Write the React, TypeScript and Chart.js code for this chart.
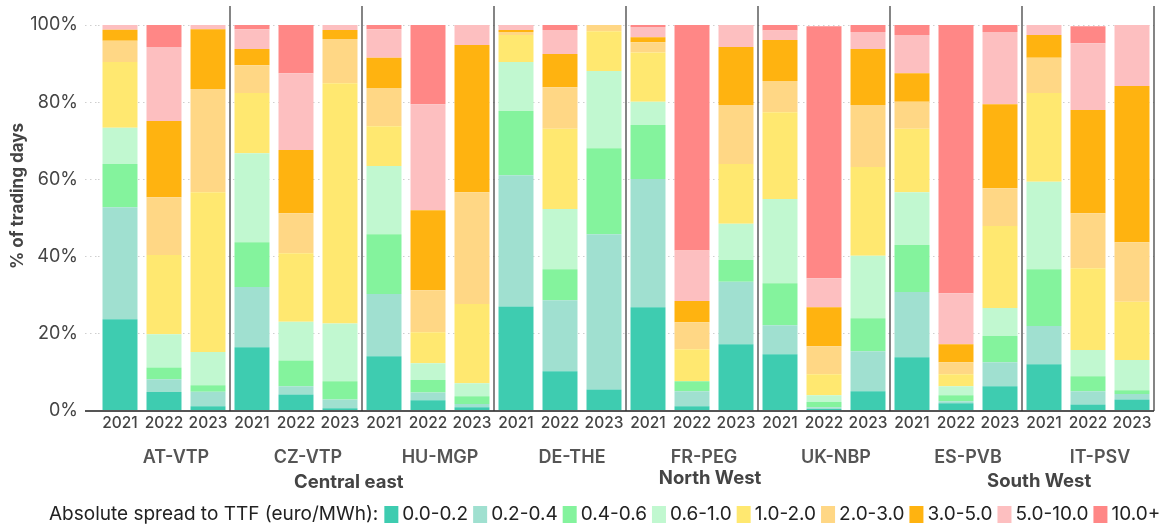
import React, { useEffect, useRef } from "react";
import { Chart, registerables } from "chart.js";

Chart.register(...registerables);

const HUBS = ["AT-VTP", "CZ-VTP", "HU-MGP", "DE-THE", "FR-PEG", "UK-NBP", "ES-PVB", "IT-PSV"];
const YEARS = ["2021", "2022", "2023"];
const REGIONS = ["Central east", "North West", "South West"];
const LEGEND_TITLE = "Absolute spread to TTF (euro/MWh):";
const Y_TITLE = "% of trading days";
const Y_TICKS = [0, 20, 40, 60, 80, 100];

const BUCKETS = ["0.0-0.2", "0.2-0.4", "0.4-0.6", "0.6-1.0", "1.0-2.0", "2.0-3.0", "3.0-5.0", "5.0-10.0", "10.0+"];
const COLORS = ["#3ECCB0", "#A0E0D0", "#84F39D", "#C1F8D0", "#FFE870", "#FFD785", "#FFB310", "#FDBFC0", "#FF8786"];

// values per bar: AT 21,22,23, CZ 21,22,23, HU..., DE..., FR..., UK..., ES..., IT...
const s00_02 = [23.8, 4.9, 1.2, 16.5, 4.3, 0.7, 14.2, 2.8, 1.0, 27.1, 10.3, 5.6, 26.9, 1.2, 17.3, 14.7, 0.5, 5.1, 13.9, 2.0, 6.4, 12.1, 1.7, 3.0];
const s02_04 = [29.0, 3.3, 3.8, 15.6, 2.1, 2.3, 16.1, 2.0, 0.8, 34.0, 18.4, 40.2, 33.2, 3.9, 16.2, 7.5, 0.5, 10.4, 16.9, 0.5, 6.2, 9.9, 3.4, 1.4];
const s04_06 = [11.2, 3.1, 1.7, 11.6, 6.7, 4.7, 15.5, 3.2, 2.0, 16.6, 8.0, 22.3, 14.0, 2.6, 5.6, 10.9, 1.3, 8.5, 12.2, 1.6, 6.8, 14.7, 3.9, 1.0];
const s06_10 = [9.4, 8.6, 8.6, 23.1, 10.0, 15.0, 17.7, 4.4, 3.4, 12.7, 15.6, 20.0, 6.0, 0, 9.4, 21.8, 1.8, 16.2, 13.7, 2.3, 7.3, 22.7, 6.8, 7.8];
const s10_20 = [17.0, 20.5, 41.4, 15.6, 17.8, 62.2, 10.3, 8.0, 20.5, 7.0, 20.8, 10.3, 12.8, 8.3, 15.5, 22.5, 5.4, 23.0, 16.4, 3.1, 21.2, 23.0, 21.2, 15.1];
const s20_30 = [5.5, 15.0, 26.7, 7.2, 10.3, 11.5, 9.9, 10.9, 29.0, 0.8, 10.8, 1.6, 2.6, 7.0, 15.3, 8.1, 7.3, 16.1, 7.0, 3.1, 9.8, 9.1, 14.2, 15.4];
const s30_50 = [2.9, 19.7, 15.5, 4.2, 16.4, 2.3, 7.8, 20.7, 38.1, 0.5, 8.6, 0, 1.3, 5.5, 15.0, 10.6, 10.1, 14.5, 7.4, 4.7, 21.8, 5.9, 26.8, 40.5];
const s50_100 = [1.2, 19.2, 1.1, 5.1, 19.9, 1.3, 7.4, 27.5, 5.2, 1.3, 6.2, 0, 2.7, 13.1, 5.7, 2.5, 7.5, 4.4, 9.9, 13.2, 18.7, 2.6, 17.3, 15.8];
const s100p = [0, 5.7, 0, 1.1, 12.5, 0, 1.1, 20.5, 0, 0, 1.3, 0, 0.5, 58.4, 0, 1.4, 65.3, 1.8, 2.6, 69.5, 1.8, 0, 4.4, 0];

const SERIES = [s00_02, s02_04, s04_06, s06_10, s10_20, s20_30, s30_50, s50_100, s100p];

const FONT = "Inter";

const overlayPlugin = {
  id: "overlay",
  afterDatasetsDraw(chart: any) {
    const ctx = chart.ctx;
    const area = chart.chartArea;
    const y = chart.scales.y;
    const y0 = y.getPixelForValue(0);
    ctx.save();
    // zero line
    ctx.strokeStyle = "#555";
    ctx.lineWidth = 2;
    ctx.beginPath();
    ctx.moveTo(area.left - 13, y0);
    ctx.lineTo(area.right, y0);
    ctx.stroke();
    // group separators
    const groupW = area.width / HUBS.length;
    ctx.strokeStyle = "#333";
    ctx.lineWidth = 1.2;
    for (let k = 1; k <= HUBS.length; k++) {
      const px = area.left + k * groupW;
      ctx.beginPath();
      ctx.moveTo(px, area.top - 19);
      ctx.lineTo(px, y0);
      ctx.stroke();
    }
    ctx.restore();
  },
  afterDraw(chart: any) {
    const ctx = chart.ctx;
    const area = chart.chartArea;
    const slot = area.width / (HUBS.length * YEARS.length);
    ctx.save();
    // hub labels
    ctx.font = `600 18px ${FONT}`;
    ctx.fillStyle = "#555";
    ctx.textAlign = "center";
    ctx.textBaseline = "middle";
    HUBS.forEach((h, i) => {
      const cx = area.left + (i * 3 + 1.5) * slot + 12;
      ctx.fillText(h, cx, 458);
    });
    // region labels
    ctx.font = `bold 18.5px ${FONT}`;
    ctx.fillStyle = "#444";
    const regionPos = [
      [5.7, 482],
      [13.91, 478],
      [21.39, 481],
    ];
    REGIONS.forEach((r, i) => {
      ctx.fillText(r, area.left + regionPos[i][0] * slot, regionPos[i][1]);
    });
    // y title
    ctx.save();
    ctx.translate(18, 196);
    ctx.rotate(-Math.PI / 2);
    ctx.font = `bold 17px ${FONT}`;
    ctx.fillStyle = "#444";
    ctx.fillText(Y_TITLE, 0, 0);
    ctx.restore();
    // legend
    ctx.font = `19px ${FONT}`;
    ctx.fillStyle = "#222";
    ctx.textAlign = "left";
    let lx = 49;
    const ly = 514;
    ctx.fillText(LEGEND_TITLE, lx, ly);
    lx += ctx.measureText(LEGEND_TITLE).width + 6;
    BUCKETS.forEach((b, i) => {
      ctx.fillStyle = COLORS[i];
      ctx.fillRect(lx, ly - 8, 14, 17);
      lx += 14 + 4;
      ctx.fillStyle = "#222";
      ctx.fillText(b, lx, ly);
      lx += ctx.measureText(b).width + 5;
    });
    ctx.restore();
  },
};

export default function App() {
  const ref = useRef<HTMLCanvasElement | null>(null);
  useEffect(() => {
    if (!ref.current) return;
    const labels: string[] = [];
    HUBS.forEach(() => YEARS.forEach((yr) => labels.push(yr)));
    const chart = new Chart(ref.current, {
      type: "bar",
      data: {
        labels,
        datasets: SERIES.map((s, i) => ({
          label: BUCKETS[i],
          data: s,
          backgroundColor: COLORS[i],
          borderWidth: 0,
          barPercentage: 0.795,
          categoryPercentage: 1,
        })),
      },
      options: {
        responsive: false,
        animation: false,
        layout: { padding: { top: 25, right: 8, left: 0, bottom: 0 } },
        plugins: { legend: { display: false }, tooltip: { enabled: false } },
        scales: {
          x: {
            stacked: true,
            grid: { display: false, drawTicks: false },
            border: { display: false },
            ticks: {
              color: "#444",
              font: { family: FONT, size: 15.5, weight: 500 },
              padding: 3,
              maxRotation: 0,
              autoSkip: false,
            },
            afterFit: (s: any) => {
              s.height = 116;
            },
          },
          y: {
            stacked: true,
            min: 0,
            max: 100,
            afterBuildTicks: (s: any) => {
              s.ticks = Y_TICKS.map((v) => ({ value: v }));
            },
            grid: {
              color: "#cfcfcf",
              lineWidth: 1,
              tickLength: 13,
              tickBorderDash: [1.5, 3.5],
            },
            border: { display: false, dash: [1.5, 3.5] },
            ticks: {
              color: "#444",
              font: { family: FONT, size: 18 },
              padding: 7,
              callback: (v: any) => v + "%",
            },
            afterFit: (s: any) => {
              s.width = 98;
            },
          },
        },
      },
      plugins: [overlayPlugin],
    });
    return () => chart.destroy();
  }, []);
  return (
    <div style={{ position: "fixed", left: 0, top: 0, width: 1162, height: 527, background: "#fff" }}>
      <canvas ref={ref} width={1162} height={527} style={{ display: "block" }} />
    </div>
  );
}
